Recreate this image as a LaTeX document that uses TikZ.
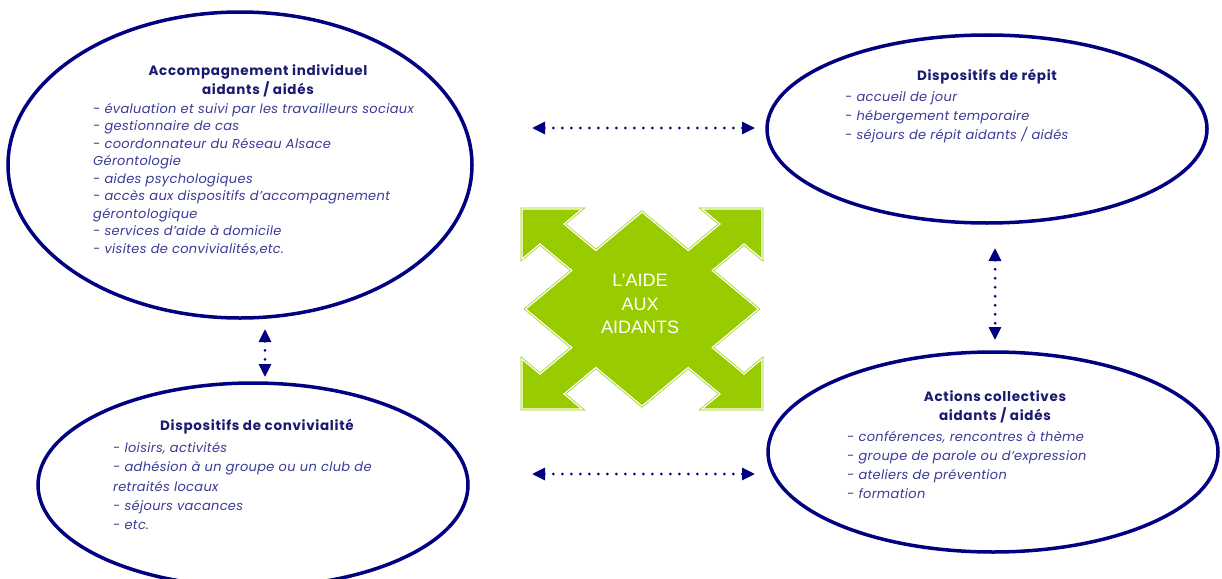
\documentclass[tikz,border=0pt]{standalone}
\usepackage{fontspec}
\setmainfont{Poppins}
\newfontfamily\aidefont{Liberation Sans}
\usetikzlibrary{shapes.geometric,arrows.meta,positioning}

\definecolor{navyline}{HTML}{000080}
\definecolor{titleblue}{HTML}{1A1A70}
\definecolor{itemblue}{HTML}{3A3A98}
\definecolor{aidegreen}{HTML}{99CC00}

\begin{document}
\begin{tikzpicture}[x=1pt,y=-1pt]
    \tikzstyle{bubble}=[
      ellipse,
      draw=navyline,
      line width=3.5pt,
      inner sep=0pt,
    ]
    \tikzstyle{heading}=[
      inner sep=0pt,
      align=center,
      text=titleblue,
      font=\fontsize{13.5}{18.5}\selectfont\bfseries\addfontfeature{LetterSpace=5},
    ]
    \tikzstyle{items}=[
      inner sep=0pt,
      anchor=north west,
      align=left,
      text=itemblue,
      font=\fontsize{13}{19}\selectfont\itshape\addfontfeature{LetterSpace=2.5},
    ]
    \tikzstyle{dlink}=[
      draw=navyline,
      line width=3pt,
      line cap=round,
      dash pattern=on 0pt off 9pt,
      {Triangle[length=13pt,width=12pt]}-{Triangle[length=13pt,width=12pt]},
    ]

    \path[fill=white, use as bounding box] (0,0) rectangle (1222,578);

    % the four ellipses
    \node[bubble, minimum width=464pt, minimum height=306pt] (indiv) at (240,165) {};
    \node[bubble, minimum width=440pt, minimum height=188pt] (repit) at (987,129) {};
    \node[bubble, minimum width=430pt, minimum height=204pt] (convi) at (253,485) {};
    \node[bubble, minimum width=450pt, minimum height=200pt] (actions) at (993,452) {};

    % texts
    \node[heading] (indivTitle) at (258,81) {Accompagnement individuel\\aidants / aidés};
    \node[items, font=\fontsize{13}{17.5}\selectfont\itshape\addfontfeature{LetterSpace=2.5}] (indivItems) at (93,103) {%
      - évaluation et suivi par les travailleurs sociaux\\
      - gestionnaire de cas\\
      - coordonnateur du Réseau Alsace\\
      Gérontologie\\
      - aides psychologiques\\
      - accès aux dispositifs d’accompagnement\\
      gérontologique\\
      - services d’aide à domicile\\
      - visites de convivialités,etc.};

    \node[heading] (repitTitle) at (987,77) {Dispositifs de répit};
    \node[items] (repitItems) at (845,91) {%
      - accueil de jour\\
      - hébergement temporaire\\
      - séjours de répit aidants / aidés};

    \node[heading] (conviTitle) at (257,427) {Dispositifs de convivialité};
    \node[items, font=\fontsize{13}{19.4}\selectfont\itshape\addfontfeature{LetterSpace=2.5}] (conviItems) at (113,442) {%
      - loisirs, activités\\
      - adhésion à un groupe ou un club de\\
      retraités locaux\\
      - séjours vacances\\
      - etc.};

    \node[heading] (actionsTitle) at (995,407) {Actions collectives\\aidants / aidés};
    \node[items] (actionsItems) at (847,431) {%
      - conférences, rencontres à thème\\
      - groupe de parole ou d’expression\\
      - ateliers de prévention\\
      - formation};

    % green cross of arrows
    \begin{scope}[shift={(642,309)}, xscale=120, yscale=100]
      \draw[fill=aidegreen, draw=aidegreen, line width=0.7pt, double=white, double distance=1.2pt]
        (-1,-1) -- (-0.5,-1) -- (-0.65,-0.85) -- (-0.385,-0.585) -- (0,-0.97)
        -- (0.385,-0.585) -- (0.65,-0.85) -- (0.5,-1) -- (1,-1)
        -- (1,-0.5) -- (0.85,-0.65) -- (0.585,-0.385) -- (0.97,0)
        -- (0.585,0.385) -- (0.85,0.65) -- (1,0.5) -- (1,1)
        -- (0.5,1) -- (0.65,0.85) -- (0.385,0.585) -- (0,0.97)
        -- (-0.385,0.585) -- (-0.65,0.85) -- (-0.5,1) -- (-1,1)
        -- (-1,0.5) -- (-0.85,0.65) -- (-0.585,0.385) -- (-0.97,0)
        -- (-0.585,-0.385) -- (-0.85,-0.65) -- (-1,-0.5) -- cycle;
    \end{scope}
    \node[align=center, text=white, inner sep=0pt, font=\aidefont\fontsize{18}{23.5}\selectfont] (aide) at (640,304) {L’AIDE\\AUX\\AIDANTS};

    % dotted links
    \coordinate (topL) at (532,128);
    \coordinate (topR) at (755,128);
    \coordinate (lowL) at (532,474);
    \coordinate (lowR) at (755,474);
    \coordinate (leftT) at (265,329);
    \coordinate (leftB) at (265,377);
    \coordinate (rightT) at (995,248);
    \coordinate (rightB) at (995,340);

    \draw[dlink] (topL) -- (topR);
    \draw[dlink] (lowL) -- (lowR);
    \draw[dlink] (leftT) -- (leftB);
    \draw[dlink] (rightT) -- (rightB);
\end{tikzpicture}
\end{document}
